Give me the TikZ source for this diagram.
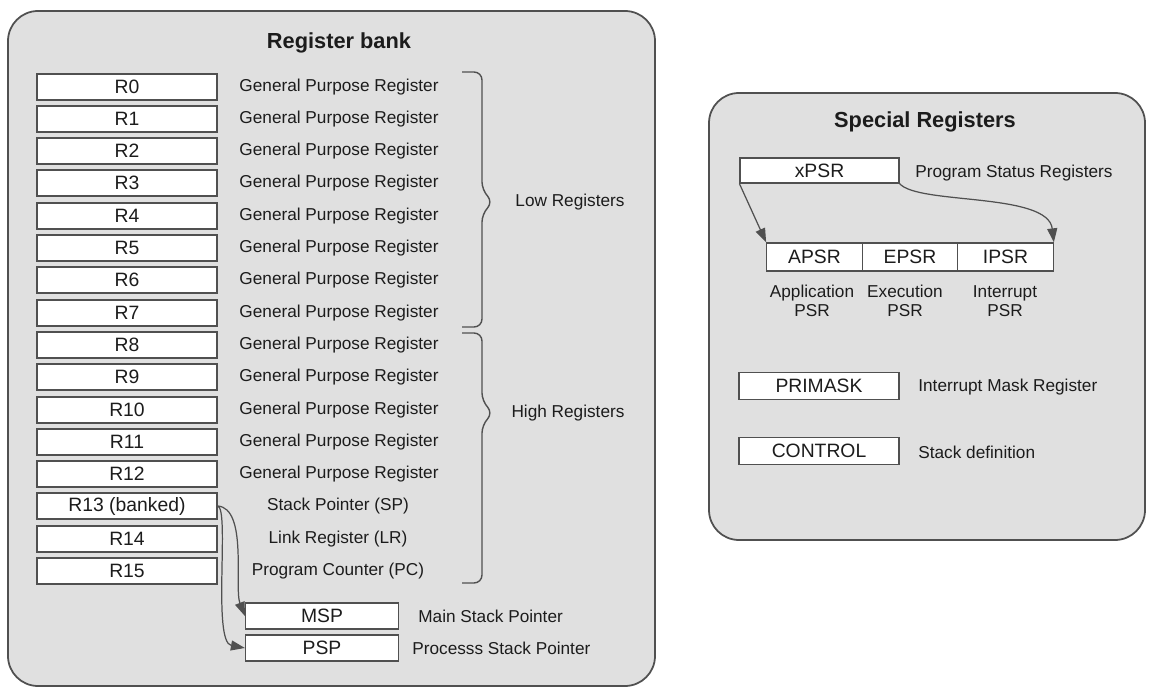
\documentclass[tikz,border=0pt]{standalone}
\usepackage{fontspec}
\setmainfont{Liberation Sans}
\usepackage{tikz}
\usetikzlibrary{arrows.meta}
\definecolor{panelGray}{RGB}{224,224,224}
\definecolor{lineGray}{RGB}{80,80,80}
\definecolor{textBlack}{RGB}{28,28,28}

\begin{document}
\begin{tikzpicture}[x=0.02cm, y=-0.02cm, text=textBlack,
  regBox/.style={draw=lineGray, fill=white, line width=0.7pt, minimum width=3.6cm,
                 minimum height=0.52cm, inner sep=0pt, font=\fontsize{11}{12}\selectfont},
  regText/.style={inner sep=0pt, font=\fontsize{9.8}{10.6}\selectfont},
  panelTitle/.style={inner sep=0pt, font=\fontsize{12.4}{14}\selectfont\bfseries},
  regArrow/.style={-{Triangle[length=0.28cm,width=0.2cm]}, lineGray, line width=0.7pt},
  regBrace/.style={lineGray, line width=0.8pt, rounded corners=0.16cm}]

\useasboundingbox (0,0) rectangle (1153,695);

% the two panels
\draw[fill=panelGray, draw=lineGray, line width=1pt, rounded corners=0.6cm] (8,11) rectangle (655,686);
\draw[fill=panelGray, draw=lineGray, line width=1pt, rounded corners=0.6cm] (709,93) rectangle (1145,540);

\node[panelTitle] (bankTitle) at (339,43) {Register bank};
\node[panelTitle] (specTitle) at (925,122) {Special Registers};

% register bank
\node[regBox] (r0) at (127,87) {R0};
\node[regText] (d0) at (339,87) {General Purpose Register};
\node[regBox] (r1) at (127,119) {R1};
\node[regText] (d1) at (339,119) {General Purpose Register};
\node[regBox] (r2) at (127,151) {R2};
\node[regText] (d2) at (339,151) {General Purpose Register};
\node[regBox] (r3) at (127,183) {R3};
\node[regText] (d3) at (339,183) {General Purpose Register};
\node[regBox] (r4) at (127,216) {R4};
\node[regText] (d4) at (339,216) {General Purpose Register};
\node[regBox] (r5) at (127,248) {R5};
\node[regText] (d5) at (339,248) {General Purpose Register};
\node[regBox] (r6) at (127,280) {R6};
\node[regText] (d6) at (339,280) {General Purpose Register};
\node[regBox] (r7) at (127,313) {R7};
\node[regText] (d7) at (339,313) {General Purpose Register};
\node[regBox] (r8) at (127,345) {R8};
\node[regText] (d8) at (339,345) {General Purpose Register};
\node[regBox] (r9) at (127,377) {R9};
\node[regText] (d9) at (339,377) {General Purpose Register};
\node[regBox] (r10) at (127,410) {R10};
\node[regText] (d10) at (339,410) {General Purpose Register};
\node[regBox] (r11) at (127,442) {R11};
\node[regText] (d11) at (339,442) {General Purpose Register};
\node[regBox] (r12) at (127,474) {R12};
\node[regText] (d12) at (339,474) {General Purpose Register};
\node[regBox] (r13) at (127,506) {R13 (banked)};
\node[regText] (d13) at (338,506) {Stack Pointer (SP)};
\node[regBox] (r14) at (127,539) {R14};
\node[regText] (d14) at (338,539) {Link Register (LR)};
\node[regBox] (r15) at (127,571) {R15};
\node[regText] (d15) at (338,571) {Program Counter (PC)};

% braces
\draw[regBrace] (462,72) -- (482,72) -- (482,190) -- (493,202) -- (482,214) -- (482,327) -- (462,327);
\draw[regBrace] (462,333) -- (482,333) -- (482,401) -- (493,413) -- (482,425) -- (482,583) -- (462,583);
\node[regText] (lowRegs) at (570,202) {Low Registers};
\node[regText] (highRegs) at (568,413) {High Registers};

% banked stack pointers
\node[regBox, minimum width=3.06cm] (msp) at (322,616) {MSP};
\node[regBox, minimum width=3.06cm] (psp) at (322,648) {PSP};
\node[regText, anchor=west] (mspText) at (418,616) {Main Stack Pointer};
\node[regText, anchor=west] (pspText) at (412,648) {Processs Stack Pointer};

\draw[regArrow] (r13.east) .. controls (248,508) and (234,588) .. (msp.west);
\draw[regArrow] (r13.east) .. controls (230,508) and (212,642) .. (psp.west);

% special registers
\node[regBox, minimum width=3.18cm, minimum height=0.5cm] (xpsr) at (819.5,170.5) {xPSR};
\node[regText, anchor=west] (xpsrText) at (915,173) {Program Status Registers};

\node[regBox, minimum width=1.91cm, minimum height=0.56cm] (apsr) at (814.5,257) {APSR};
\node[regBox, minimum width=1.91cm, minimum height=0.56cm] (epsr) at (910,257) {EPSR};
\node[regBox, minimum width=1.91cm, minimum height=0.56cm] (ipsr) at (1005.5,257) {IPSR};
\node[regText, align=center] (apsrText) at (812,301) {Application\\PSR};
\node[regText, align=center] (epsrText) at (905,301) {Execution\\PSR};
\node[regText, align=center] (ipsrText) at (1005,301) {Interrupt\\PSR};

\draw[regArrow] (xpsr.south west) -- (apsr.north west);
\draw[regArrow] (xpsr.south east) .. controls (918,205) and (1048,192) .. (ipsr.north east);

\node[regBox, minimum width=3.2cm, minimum height=0.54cm] (primask) at (819,386) {PRIMASK};
\node[regText, anchor=west] (primaskText) at (918,387) {Interrupt Mask Register};
\node[regBox, minimum width=3.2cm, minimum height=0.54cm] (control) at (819,451) {CONTROL};
\node[regText, anchor=west] (controlText) at (918,452) {Stack definition};

\end{tikzpicture}
\end{document}
